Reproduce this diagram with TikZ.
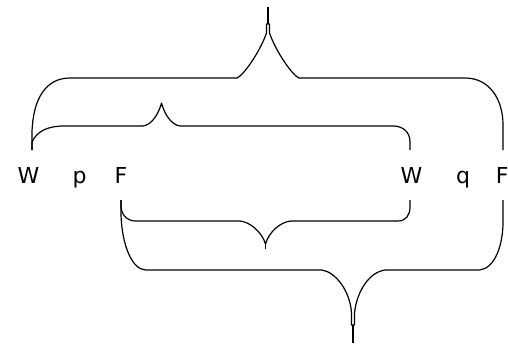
\documentclass[tikz,border=0pt]{standalone}
\usepackage{fontspec}
\setmainfont{DejaVu Sans}
\usetikzlibrary{calc}
\begin{document}
\begin{tikzpicture}[x=1pt,y=-1pt,
  lbl/.style={anchor=base,inner sep=0pt,font=\fontsize{22}{26}\selectfont},
  bracepath/.style={draw=black,line width=1.2pt,line join=round}]
\useasboundingbox (0,0) rectangle (508,345);
% labels
\node[lbl] (W1) at (28.5,183) {W};
\node[lbl] (p)  at (79.5,183) {p};
\node[lbl] (F1) at (121,183) {F};
\node[lbl] (W2) at (411.5,183) {W};
\node[lbl] (q)  at (463,183) {q};
\node[lbl] (F2) at (502.3,183) {F};
% brace ends at the labels
\coordinate (W1u) at ($(W1.base)+(3.5,-33)$);
\coordinate (W2u) at ($(W2.base)+(-1.5,-33)$);
\coordinate (F2u) at ($(F2.base)+(0.7,-33)$);
\coordinate (F1d) at ($(F1.base)+(0,17)$);
\coordinate (W2d) at ($(W2.base)+(-1.5,17)$);
\coordinate (F2d) at ($(F2.base)+(0.7,17)$);
% brace tips
\coordinate (tA) at (268,7);
\coordinate (tB) at (161.5,103);
\coordinate (tC) at (265.5,249);
\coordinate (tD) at (353,343);
% top big brace: W1 -- F2
\draw[bracepath] (W1u) -- (32,132) .. controls (33,100) and (45,78) .. (70,78)
  -- (237,78) .. controls (243,76) and (260,52) .. (266.5,33) -- (266.5,24)
  -- (269.5,24) -- (269.5,33) .. controls (276,52) and (293,76) .. (299,78)
  -- (465,78) .. controls (490,78) and (503,100) .. (503,125) -- (F2u);
\draw[bracepath] (268,24) -- (tA);
% upper small brace: W1 -- W2
\draw[bracepath] (W1u) -- (32,142) .. controls (37,131) and (48,126) .. (64,126)
  -- (143,126) .. controls (152,125) and (159,113) .. (tB)
  .. controls (164,113) and (171,125) .. (180,126)
  -- (393,126) .. controls (403,126) and (410,132) .. (410,142) -- (W2u);
% lower small brace: F1 -- W2
\draw[bracepath] (F1d) -- (121,208) .. controls (123,217) and (128,221) .. (136,221)
  -- (240,221) .. controls (250,222) and (262,232) .. (265.5,244)
  .. controls (269,232) and (280,222) .. (291,221)
  -- (398,221) .. controls (406,221) and (410,215) .. (410,207) -- (W2d);
\draw[bracepath] (265.5,244) -- (tC);
% lower big brace: F1 -- F2
\draw[bracepath] (F1d) -- (121,215) .. controls (122,245) and (132,270) .. (146,270)
  -- (322,270) .. controls (335,272) and (350,290) .. (351.5,313) -- (351.5,325)
  -- (354.5,325) -- (354.5,313) .. controls (357,290) and (370,272) .. (385,270)
  -- (480,270) .. controls (495,268) and (503,245) .. (503,222) -- (F2d);
\draw[bracepath] (353,325) -- (tD);
\end{tikzpicture}
\end{document}
